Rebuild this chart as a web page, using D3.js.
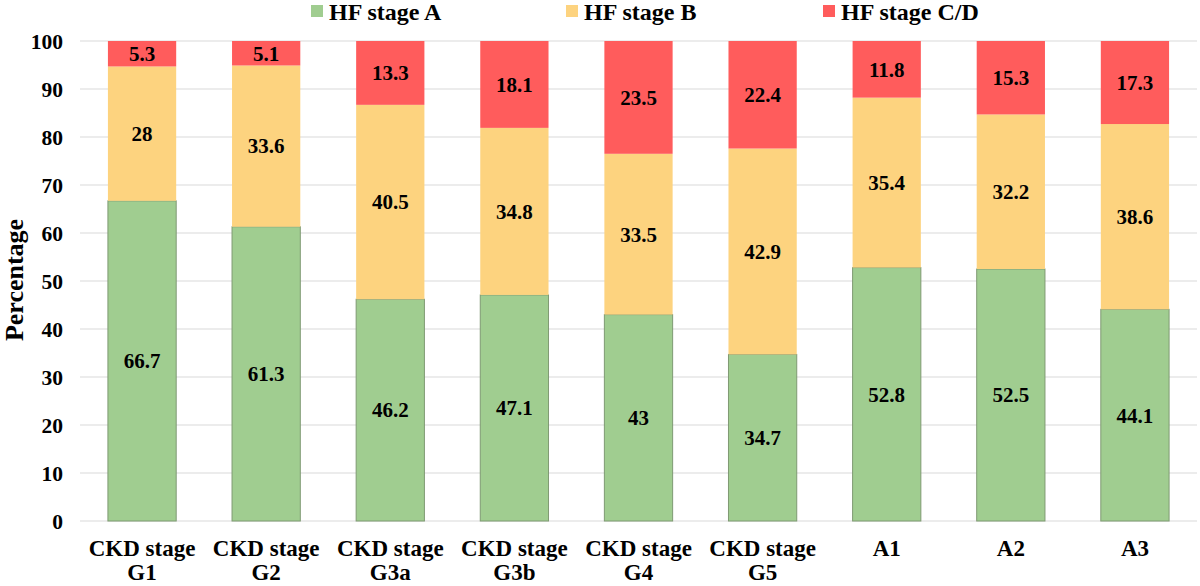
<!doctype html>
<html lang="en">
<head>
<meta charset="utf-8" />
<style>
  html, body { margin: 0; padding: 0; background: #fff; }
  svg text { font-family: "Liberation Serif", "Times New Roman", serif; font-weight: 700; fill: #000; }
</style>
</head>
<body>
<svg id="chart" width="1200" height="586"></svg>
<script src="https://cdn.jsdelivr.net/npm/d3@7/dist/d3.min.js"></script>
<script>
const categories = [['CKD stage', 'G1'], ['CKD stage', 'G2'], ['CKD stage', 'G3a'], ['CKD stage', 'G3b'],
  ['CKD stage', 'G4'], ['CKD stage', 'G5'], ['A1'], ['A2'], ['A3']];
const stageA = [66.7, 61.3, 46.2, 47.1, 43, 34.7, 52.8, 52.5, 44.1];
const stageB = [28, 33.6, 40.5, 34.8, 33.5, 42.9, 35.4, 32.2, 38.6];
const stageCD = [5.3, 5.1, 13.3, 18.1, 23.5, 22.4, 11.8, 15.3, 17.3];
const seriesNames = ['HF stage A', 'HF stage B', 'HF stage C/D'];
const yTicks = [0, 10, 20, 30, 40, 50, 60, 70, 80, 90, 100];

const colors = ['#A0CD90', '#FDD37F', '#FF5C5C'];
const series = [stageA, stageB, stageCD];

const svg = d3.select('#chart');
const m = { left: 80, right: 3, top: 41, bottom: 65 };
const W = 1200, H = 586;

const x = d3.scaleBand().domain(d3.range(categories.length)).range([m.left, W - m.right]).paddingInner(0.45).paddingOuter(0.225);
const y = d3.scaleLinear().domain([0, 100]).range([H - m.bottom, m.top]);

// grid
svg.append('g').selectAll('line').data(yTicks).join('line')
  .attr('x1', m.left).attr('x2', W - m.right)
  .attr('y1', d => y(d)).attr('y2', d => y(d))
  .attr('stroke', '#d9d9d9').attr('stroke-width', 1.2);

// y tick labels
svg.append('g').selectAll('text').data(yTicks).join('text')
  .attr('x', 63).attr('y', d => y(d)).attr('dy', '0.35em')
  .attr('text-anchor', 'end').attr('font-size', 21.5).text(d => d);

// stacked bars
const rows = categories.map((c, i) => ({ i, a: stageA[i], b: stageB[i], c: stageCD[i] }));
const stack = d3.stack().keys(['a', 'b', 'c'])(rows);

stack.forEach((layer, k) => {
  const g = svg.append('g');
  g.selectAll('rect').data(layer).join('rect')
    .attr('x', d => x(d.data.i)).attr('width', x.bandwidth())
    .attr('y', d => y(d[1])).attr('height', d => y(d[0]) - y(d[1]))
    .attr('fill', colors[k])
    .attr('stroke', k === 0 ? '#7f9a73' : 'none').attr('stroke-width', k === 0 ? 1 : 0);
  g.selectAll('text').data(layer).join('text')
    .attr('x', d => x(d.data.i) + x.bandwidth() / 2)
    .attr('y', d => y((d[0] + d[1]) / 2)).attr('dy', '0.35em')
    .attr('text-anchor', 'middle').attr('font-size', 21)
    .text((d, i) => series[k][i]);
});

// x labels
const xl = svg.append('g').selectAll('text').data(categories).join('text')
  .attr('text-anchor', 'middle').attr('font-size', 23)
  .attr('transform', (d, i) => `translate(${x(i) + x.bandwidth() / 2},0)`);
xl.each(function(d) {
  const t = d3.select(this);
  d.forEach((line, j) => {
    t.append('tspan').attr('x', 0).attr('y', 556 + j * 24).text(line);
  });
});

// y axis title
svg.append('text').attr('transform', 'translate(23,280) rotate(-90)')
  .attr('text-anchor', 'middle').attr('font-size', 26).text('Percentage');

// legend
const legendX = [311, 566, 823];
const lg = svg.append('g').selectAll('g').data(seriesNames).join('g')
  .attr('transform', (d, i) => `translate(${legendX[i]},5)`);
lg.append('rect').attr('width', 12).attr('height', 12).attr('fill', (d, i) => colors[i]);
lg.append('text').attr('x', 18).attr('y', 7).attr('dy', '0.35em').attr('font-size', 24).text(d => d);
</script>
</body>
</html>
